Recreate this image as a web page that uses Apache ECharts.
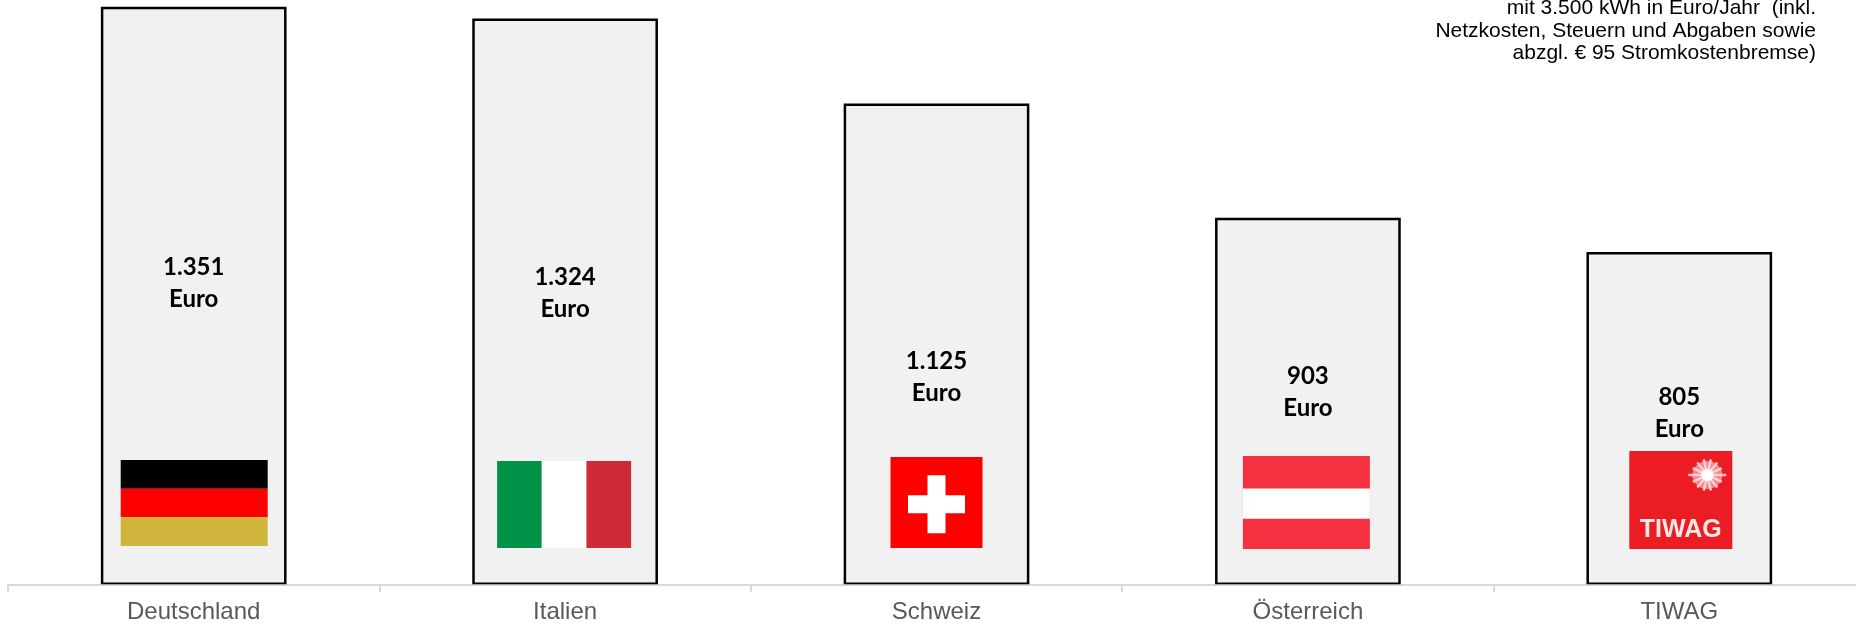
<!DOCTYPE html>
<html><head><meta charset="utf-8">
<style>html,body{margin:0;padding:0;background:#fff}#c{width:1856px;height:625px}</style>
<script src="https://cdn.jsdelivr.net/npm/echarts@6/dist/echarts.min.js"></script>
</head><body><div id="c"></div>
<script>
// Data
const categories = ['Deutschland', 'Italien', 'Schweiz', 'Österreich', 'TIWAG'];
// Bar heights as drawn in the reference (its last two bars are shorter than their printed numbers imply)
const barValues = [1351, 1324, 1125, 858, 778];
const printedValues = ['1.351', '1.324', '1.125', '903', '805'];
const unitText = 'Euro';
const noteLines = [
  'mit 3.500 kWh in Euro/Jahr  (inkl.',
  'Netzkosten, Steuern und Abgaben sowie',
  'abzgl. € 95 Stromkostenbremse)'
];

// Layout and style, kept apart from the data
const labelDistance = [270, 260, 176, 161, 140];
const flagLayout = [
  { kind: 'de', l: -73, r: 74, t: -125, b: -39 },
  { kind: 'it', l: -68, r: 66, t: -124, b: -37 },
  { kind: 'ch', l: -46, r: 46, t: -128, b: -37 },
  { kind: 'at', l: -65, r: 62, t: -129, b: -36 },
  { kind: 'ti', l: -50, r: 53, t: -134, b: -36 }
];

function rect(x, y, w, h, fill) {
  return { type: 'rect', shape: { x, y, width: w, height: h }, style: { fill } };
}
function drawFlag(i, cx, base) {
  const f = flagLayout[i];
  const x = cx + f.l, y = base + f.t, w = f.r - f.l, h = f.b - f.t;
  const ch = [];
  if (f.kind === 'de') {
    ch.push(rect(x, y, w, h / 3, '#000000'), rect(x, y + h / 3, w, h / 3, '#ff0000'), rect(x, y + 2 * h / 3, w, h / 3, '#cfb53b'));
  } else if (f.kind === 'it') {
    ch.push(rect(x, y, w / 3, h, '#009246'), rect(x + w / 3, y, w / 3, h, '#ffffff'), rect(x + 2 * w / 3, y, w / 3, h, '#ce2b37'));
  } else if (f.kind === 'ch') {
    const mx = x + w / 2, my = y + h * 0.52;
    ch.push(rect(x, y, w, h, '#ff0000'), rect(mx - 28.5, my - 9, 57, 18, '#ffffff'), rect(mx - 9, my - 29, 18, 58, '#ffffff'));
  } else if (f.kind === 'at') {
    ch.push(rect(x, y, w, h, '#f53241'), rect(x, y + h * 0.35, w, h * 0.325, '#ffffff'));
  } else {
    ch.push(rect(x, y, w, h, '#ec1c24'));
    const ex = x + 78, ey = y + 24;
    ch.push({ type: 'ellipse', shape: { cx: ex, cy: ey, rx: 15, ry: 14 }, style: { fill: 'rgba(255,190,195,0.65)' } });
    for (let a = 0; a < 14; a++) {
      const t = a / 14 * Math.PI * 2, rx = a % 7 === 0 ? 19 : 16, ry = 16;
      ch.push({ type: 'line', shape: { x1: ex, y1: ey, x2: ex + Math.cos(t) * rx, y2: ey + Math.sin(t) * ry }, style: { stroke: 'rgba(255,225,225,0.85)', lineWidth: 2.5 } });
    }
    ch.push({ type: 'circle', shape: { cx: ex, cy: ey, r: 6 }, style: { fill: '#ffffff' } });
    ch.push({ type: 'text', style: { x: x + w / 2, y: y + 79, text: 'TIWAG', fill: '#fde8e4', font: 'bold 25px "Liberation Sans"', align: 'center', verticalAlign: 'middle' } });
  }
  return { type: 'group', children: ch };
}

const chart = echarts.init(document.getElementById('c'), null, { renderer: 'canvas' });
chart.setOption({
  animation: false,
  backgroundColor: '#ffffff',
  grid: { left: 8, width: 1857, top: 0, height: 585, containLabel: false, outerBoundsMode: 'none' },
  xAxis: {
    type: 'category', data: categories, z: 3,
    axisLine: { show: true, lineStyle: { color: 'rgba(206,206,206,0.8)', width: 2 } },
    axisTick: { show: true, length: 7, lineStyle: { color: '#d9d9d9', width: 2 } },
    axisLabel: { color: '#595959', fontSize: 24, fontFamily: 'Liberation Sans', margin: 15, interval: 0 }
  },
  yAxis: { type: 'value', min: 0, max: 1367, show: false, splitLine: { show: false } },
  graphic: [{
    type: 'text', z: 10,
    style: { x: 1816, y: -3, text: noteLines.join('\n'), align: 'right', fill: '#000000', font: '21px "Liberation Sans"', lineHeight: 22.5 }
  }],
  series: [{
    type: 'bar', barWidth: '50%',
    itemStyle: { color: '#f1f1f1', borderColor: '#000000', borderWidth: 2.5 },
    data: barValues.map((v, i) => ({
      value: v,
      label: {
        show: true, position: 'insideBottom', distance: labelDistance[i],
        formatter: printedValues[i] + '\n' + unitText,
        color: '#000000', fontFamily: 'Lato', fontWeight: 'bold', fontSize: 24, lineHeight: 32
      }
    }))
  }, {
    type: 'custom', z: 4,
    data: categories.map((c, i) => i),
    encode: { x: 0 },
    renderItem: (p, api) => {
      const i = p.dataIndex;
      const pt = api.coord([i, 0]);
      return drawFlag(i, pt[0], pt[1]);
    }
  }]
});
</script></body></html>
